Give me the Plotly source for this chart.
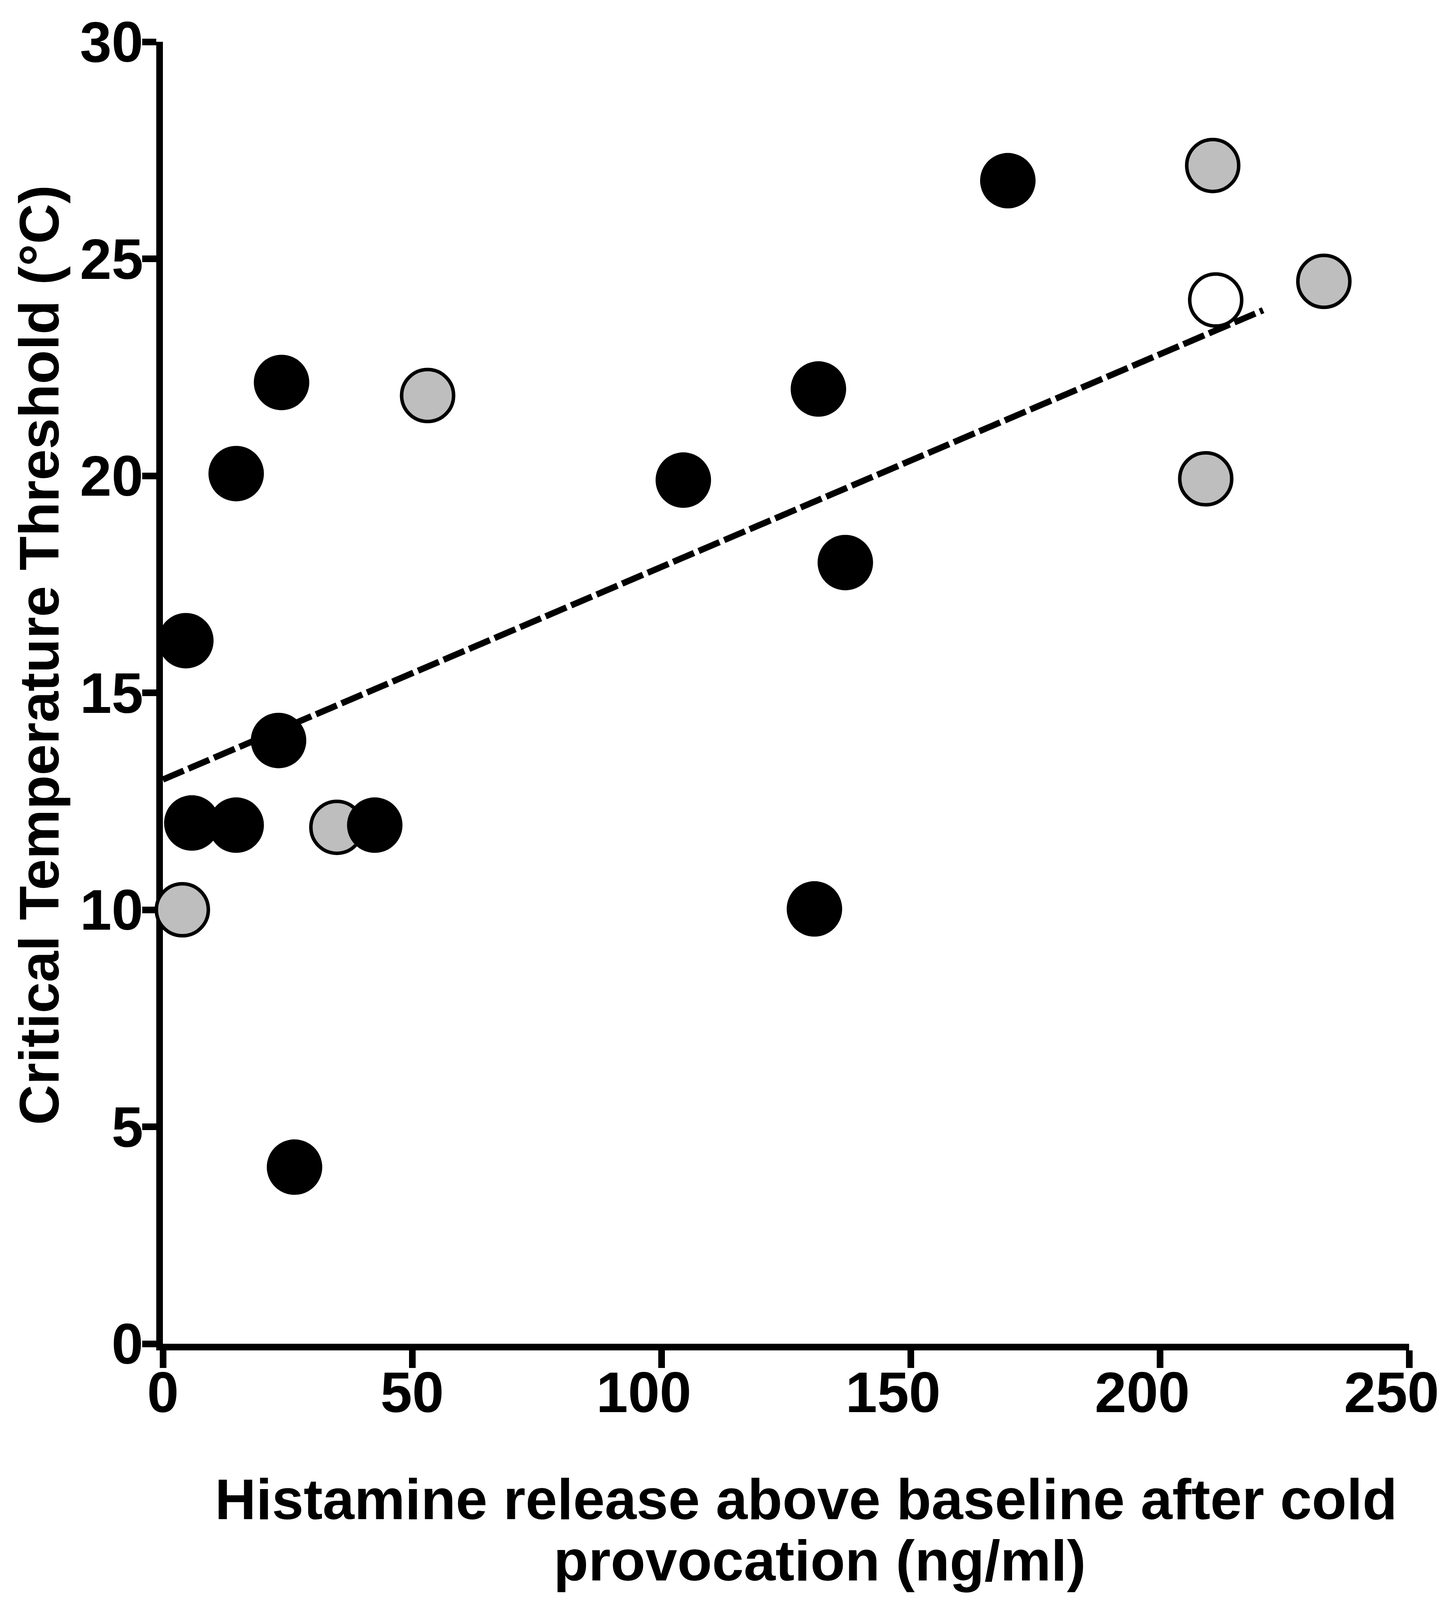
import plotly.graph_objects as go

# black points
black_x = [4.6, 5.8, 14.7, 14.7, 23.8, 23.2, 26.4, 42.5, 104.4, 131.5, 130.7, 136.9, 169.5]
black_y = [16.2, 12.0, 20.05, 11.95, 22.15, 13.9, 4.07, 11.95, 19.9, 22.0, 10.02, 18.0, 26.8]

# grey points
grey_x = [3.9, 34.9, 53.1, 210.6, 209.2, 232.9]
grey_y = [10.0, 11.9, 21.85, 27.15, 19.93, 24.48]

# open point
open_x = [211.2]
open_y = [24.05]

# fitted line
fit_intercept = 13.0
fit_slope = 0.049
fit_x = [0, 220.7]
fit_y = [fit_intercept + fit_slope * v for v in fit_x]

x_ticks_short = [0, 50]
x_ticks_long = [100, 150, 200, 250]
y_ticks = [0, 5, 10, 15, 20, 25, 30]

FONT = "Liberation Sans, Arial, Helvetica, sans-serif"
tickfont = dict(family=FONT, size=146, color="black", weight="bold")
titlefont = dict(family=FONT, size=146, color="black", weight="bold")

fig = go.Figure()
fig.add_trace(go.Scatter(x=grey_x, y=grey_y, mode="markers", cliponaxis=False,
                         marker=dict(size=133, color="#bebebe", line=dict(color="black", width=9))))
fig.add_trace(go.Scatter(x=open_x, y=open_y, mode="markers", cliponaxis=False,
                         marker=dict(size=133, color="white", line=dict(color="black", width=9))))
fig.add_trace(go.Scatter(x=black_x, y=black_y, mode="markers", cliponaxis=False,
                         marker=dict(size=142, color="black", line=dict(width=0))))
fig.add_trace(go.Scatter(x=fit_x, y=fit_y, mode="lines", cliponaxis=False, xaxis="x2",
                         line=dict(color="black", width=16, dash="58px,13px")))

fig.update_layout(
    width=3688, height=4076,
    margin=dict(l=409, r=76, t=99, b=644, pad=0),
    plot_bgcolor="white", paper_bgcolor="white",
    showlegend=False,
    font=dict(family=FONT, color="black"),
    xaxis=dict(range=[0, 250], tickvals=x_ticks_short + x_ticks_long,
               ticktext=[str(v) for v in x_ticks_short] + [""] * len(x_ticks_long),
               showline=True, linewidth=17, linecolor="black",
               ticks="outside", ticklen=45, tickwidth=17, tickcolor="black",
               ticklabelstandoff=-62, tickfont=tickfont,
               showgrid=False, zeroline=False, layer="below traces"),
    xaxis2=dict(range=[0, 250], overlaying="x", anchor="y", side="bottom",
                tickvals=x_ticks_long, ticktext=[str(v) for v in x_ticks_long],
                showline=False, ticks="outside", ticklen=45, tickwidth=0,
                tickcolor="rgba(0,0,0,0)", ticklabelstandoff=-46, ticklabelshift=-45,
                ticklabeloverflow="allow", tickfont=tickfont,
                showgrid=False, zeroline=False),
    yaxis=dict(range=[0, 30], tickvals=y_ticks,
               showline=True, linewidth=17, linecolor="black",
               ticks="outside", ticklen=36, tickwidth=17, tickcolor="black",
               ticklabelstandoff=-32, tickfont=tickfont,
               showgrid=False, zeroline=False, layer="below traces"),
    annotations=[
        dict(text="Critical Temperature Threshold (°C)", textangle=-90,
             xref="paper", yref="paper", x=-0.099, y=0.529,
             xanchor="center", yanchor="middle", showarrow=False,
             font=dict(family=FONT, size=143, color="black", weight="bold")),
        dict(text="Histamine release above baseline after cold",
             xref="paper", yref="paper", x=0.516, y=-0.1197,
             xanchor="center", yanchor="middle", showarrow=False, font=titlefont),
        dict(text="provocation (ng/ml)",
             xref="paper", yref="paper", x=0.527, y=-0.1668,
             xanchor="center", yanchor="middle", showarrow=False, font=titlefont),
    ],
)

fig.write_html("out.html")
